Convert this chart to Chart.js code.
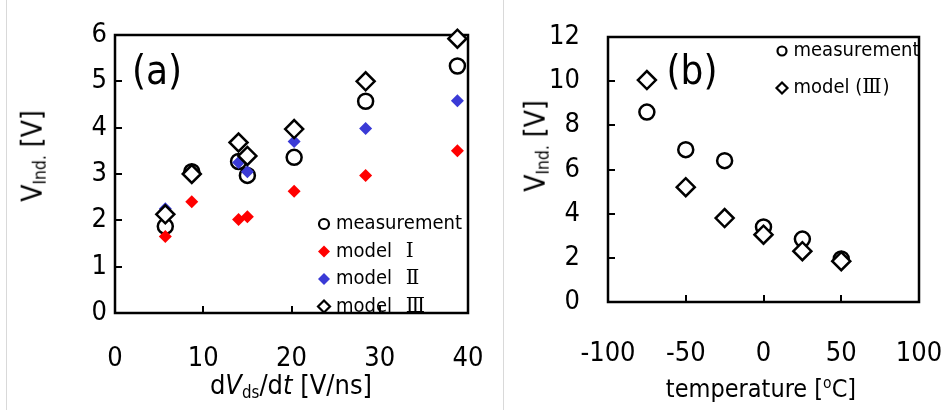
<!DOCTYPE html>
<html>
<head>
<meta charset="utf-8">
<script src="https://cdn.jsdelivr.net/npm/chart.js@4/dist/chart.umd.min.js"></script>
<style>
  body { margin: 0; background: #fff; }
  #wrap { position: relative; width: 941px; height: 410px; overflow: hidden;
          font-family: 'Liberation Sans Narrow', 'DejaVu Sans Condensed', sans-serif; color: #000; }
  .panel { position: absolute; top: 0; height: 410px; }
  #pa { left: 0; width: 503px; }
  #pb { left: 503px; width: 438px; }
  .sep { position: absolute; top: 0; width: 1px; height: 410px; background: #d9d9d9; }
  .txt { position: absolute; white-space: nowrap; line-height: 1; }
  .ytitle { transform: translate(-50%, -50%) rotate(-90deg); }
  .xtitle { transform: translate(-50%, -50%); }
  .tag { font-size: 40px; transform: translate(-50%, -50%); }
  sub { font-size: 62%; vertical-align: -0.25em; }
  sup { font-size: 62%; vertical-align: 0.55em; }
</style>
</head>
<body>
<div id="wrap">
  <div class="sep" style="left:6px"></div>
  <div class="sep" style="left:503px"></div>
  <div class="panel" id="pa"><canvas id="chartA"></canvas></div>
  <div class="panel" id="pb"><canvas id="chartB"></canvas></div>

  <div class="txt tag" style="left:157px;top:70px">(a)</div>
  <div class="txt tag" style="left:692px;top:70px">(b)</div>

  <div class="txt ytitle" style="left:34px;top:156px;font-size:28px">V<sub>Ind.</sub> [V]</div>
  <div class="txt ytitle" style="left:537px;top:146px;font-size:28px">V<sub>Ind.</sub> [V]</div>
  <div class="txt xtitle" style="left:291px;top:386px;font-size:27px">d<i>V</i><sub>ds</sub>/d<i>t</i> [V/ns]</div>
  <div class="txt xtitle" style="left:761px;top:388px;font-size:25px">temperature [<sup>o</sup>C]</div>
</div>

<script>
// ---- data (a): induced voltage vs dVds/dt
const dvdt   = [5.7, 8.7, 14.0, 15.0, 20.3, 28.4, 38.8];
const measA  = [1.87, 3.05, 3.27, 2.97, 3.36, 4.57, 5.33];
const model1 = [1.65, 2.40, 2.02, 2.08, 2.63, 2.97, 3.50];
const model2 = [2.25, 3.02, 3.25, 3.05, 3.70, 3.98, 4.58];
const model3 = [2.13, 3.00, 3.68, 3.39, 3.97, 5.00, 5.92];
const namesA = ['measurement', 'model \u2160', 'model \u2161', 'model \u2162'];

// ---- data (b): induced voltage vs temperature
const temps  = [-75, -50, -25, 0, 25, 50];
const measB  = [8.6, 6.9, 6.4, 3.4, 2.85, 1.95];
const modelB = [10.05, 5.2, 3.8, 3.05, 2.3, 1.85];
const namesB = ['measurement', 'model (\u2162)'];

const FONT = "'Liberation Sans Narrow', 'DejaVu Sans Condensed', sans-serif";
const NUMERAL_FONT = "'DejaVu Serif', 'Noto Sans CJK JP', serif";

function pts(xs, ys) {
    return xs.map((x, i) => ({ x: x, y: ys[i] }));
}

/**
 * Frame + inward tick marks (Excel style)
 */
const framePlugin = {
    id: 'frame',
    beforeDatasetsDraw(chart) {
        const { ctx, chartArea: a, scales } = chart;
        ctx.save();
        ctx.strokeStyle = '#000';
        ctx.lineWidth = 2;
        scales.x.ticks.forEach(t => {
            if (t.value <= scales.x.min || t.value >= scales.x.max) return;
            const px = Math.round(scales.x.getPixelForValue(t.value));
            ctx.beginPath();
            ctx.moveTo(px, a.bottom);
            ctx.lineTo(px, a.bottom - 7);
            ctx.stroke();
        });
        scales.y.ticks.forEach(t => {
            if (t.value <= scales.y.min || t.value >= scales.y.max) return;
            const py = Math.round(scales.y.getPixelForValue(t.value));
            ctx.beginPath();
            ctx.moveTo(a.left, py);
            ctx.lineTo(a.left + 7, py);
            ctx.stroke();
        });
        ctx.lineWidth = 2.5;
        ctx.strokeRect(a.left, a.top, a.right - a.left, a.bottom - a.top);
        ctx.restore();
    }
};

function drawMarker(ctx, style, x, y, r, fill, stroke, lw) {
    ctx.beginPath();
    if (style === 'circle') {
        ctx.arc(x, y, r, 0, Math.PI * 2);
    } else {
        ctx.moveTo(x, y - r);
        ctx.lineTo(x + r, y);
        ctx.lineTo(x, y + r);
        ctx.lineTo(x - r, y);
        ctx.closePath();
    }
    ctx.fillStyle = fill;
    ctx.fill();
    if (lw > 0) {
        ctx.lineWidth = lw;
        ctx.strokeStyle = stroke;
        ctx.stroke();
    }
}

// roman numerals get a serif font and the wide gap of the original's full-width glyphs
function drawLabel(ctx, text, x, y, size) {
    let cx = x;
    let prev = '';
    for (const ch of text) {
        const roman = ch >= '\u2160' && ch <= '\u217f';
        if (roman && prev === ' ') cx += 8;
        ctx.font = size + 'px ' + (roman ? NUMERAL_FONT : FONT);
        ctx.fillText(ch, cx, y);
        cx += ctx.measureText(ch).width + (roman ? 1 : 0);
        prev = ch;
    }
}

/**
 * Legend drawn inside the plot area
 */
const innerLegend = {
    id: 'innerLegend',
    afterDatasetsDraw(chart, args, opts) {
        const { ctx, chartArea: a } = chart;
        ctx.save();
        ctx.textBaseline = 'middle';
        ctx.textAlign = 'left';
        chart.data.datasets.forEach((ds, i) => {
            const y = a.top + opts.y + i * opts.gap;
            const x = a.left + opts.x;
            const open = ds.pointBackgroundColor === '#fff';
            const r = ds.pointStyle === 'circle' ? opts.r - 1 : opts.r;
            drawMarker(ctx, ds.pointStyle === 'circle' ? 'circle' : 'diamond', x, y, r,
                ds.pointBackgroundColor, ds.pointBorderColor, open ? 2.2 : 0);
            ctx.fillStyle = '#000';
            drawLabel(ctx, ds.label, x + opts.r + 6, y, opts.fontSize);
        });
        ctx.restore();
    }
};

function openCircle(label, data) {
    return { label: label, data: data, pointStyle: 'circle', pointRadius: 7.5,
             pointBackgroundColor: '#fff', pointBorderColor: '#000', pointBorderWidth: 2.5, order: 9 };
}
function openDiamond(label, data, order) {
    return { label: label, data: data, pointStyle: 'rectRot', pointRadius: 9,
             pointBackgroundColor: '#fff', pointBorderColor: '#000', pointBorderWidth: 2.5, order: order };
}
function solidDiamond(label, data, color, order) {
    return { label: label, data: data, pointStyle: 'rectRot', pointRadius: 6.5,
             pointBackgroundColor: color, pointBorderColor: color, pointBorderWidth: 0, order: order };
}

function makeChart(id, datasets, xs, ys, geo, legendOpts) {
    const tickFont = { family: FONT, size: 27 };
    return new Chart(document.getElementById(id), {
        type: 'scatter',
        data: { datasets: datasets },
        options: {
            responsive: true,
            maintainAspectRatio: false,
            animation: false,
            layout: { padding: { top: geo.top, right: geo.right, left: 0, bottom: 0 } },
            elements: { point: { hoverRadius: 0 } },
            datasets: { scatter: { clip: false } },
            plugins: {
                legend: { display: false },
                tooltip: { enabled: false },
                innerLegend: legendOpts
            },
            scales: {
                x: {
                    type: 'linear', min: xs.min, max: xs.max,
                    // fixed axis box; drop the label overhang so the plot keeps its width
                    afterFit: s => { s.height = geo.xh; s.paddingLeft = 0; s.paddingRight = 0; },
                    grid: { display: false, drawTicks: false },
                    border: { display: false },
                    ticks: { stepSize: xs.step, padding: geo.xpad, color: '#000', font: tickFont }
                },
                y: {
                    type: 'linear', min: ys.min, max: ys.max,
                    afterFit: s => { s.width = geo.yw; s.paddingTop = 0; s.paddingBottom = 0; },
                    grid: { display: false, drawTicks: false },
                    border: { display: false },
                    ticks: { stepSize: ys.step, padding: geo.ypad, color: '#000', font: tickFont }
                }
            }
        },
        plugins: [framePlugin, innerLegend]
    });
}

makeChart('chartA', [
        openCircle(namesA[0], pts(dvdt, measA)),
        solidDiamond(namesA[1], pts(dvdt, model1), '#ff0000', 8),
        solidDiamond(namesA[2], pts(dvdt, model2), '#3a3ad6', 7),
        openDiamond(namesA[3], pts(dvdt, model3), 1)
    ],
    { min: 0, max: 40, step: 10 },
    { min: 0, max: 6, step: 1 },
    { top: 35, right: 35, xh: 97, yw: 115, xpad: 30, ypad: 8 },
    { x: 209, y: 189, gap: 27.5, r: 6, fontSize: 20 }
);

makeChart('chartB', [
        openCircle(namesB[0], pts(temps, measB)),
        openDiamond(namesB[1], pts(temps, modelB), 1)
    ],
    { min: -100, max: 100, step: 50 },
    { min: 0, max: 12, step: 2 },
    { top: 37, right: 22, xh: 108, yw: 105, xpad: 36, ypad: 28 },
    { x: 174, y: 14, gap: 37, r: 5.5, fontSize: 20 }
);
</script>
</body>
</html>
